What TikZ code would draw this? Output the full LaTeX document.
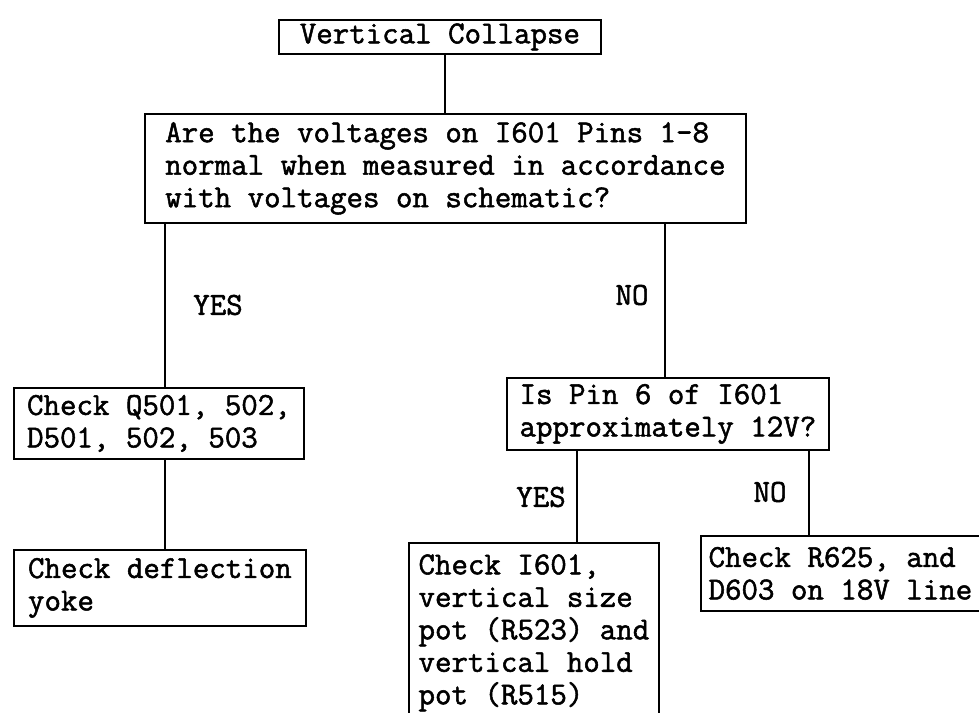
\documentclass[tikz,border=0pt]{standalone}
\usepackage{fontspec}
\newfontfamily\tw[FakeBold=1.6]{Latin Modern Mono}
\begin{document}
\begin{tikzpicture}[x=1pt,y=-1pt,
  box/.style={draw, line width=1.8pt, anchor=north west, align=left,
    inner xsep=0pt, inner ysep=0pt, font=\tw\fontsize{32}{32.5}\selectfont},
  lbl/.style={font=\tw\fontsize{32}{32.5}\selectfont, inner sep=0pt},
  link/.style={line width=2pt}]
\useasboundingbox (0,0) rectangle (979,712);
\fill[white] (0,0) rectangle (979,712);

\node[box, minimum width=322pt, minimum height=34pt] (top) at (278,19) {Vertical Collapse};
\node[box, minimum width=601pt, minimum height=109pt] (q) at (144,113)
  {Are the voltages on I601 Pins 1-8\\normal when measured in accordance\\with voltages on schematic?};
\node[box, minimum width=290pt, minimum height=71pt] (c1) at (13,387)
  {Check Q501, 502,\\D501, 502, 503};
\node[box, minimum width=292pt, minimum height=76pt] (d) at (13,549)
  {Check deflection\\yoke};
\node[box, minimum width=322pt, minimum height=72pt] (p) at (506,377)
  {Is Pin 6 of I601\\approximately 12V?};
\node[box, minimum width=279pt, minimum height=75pt] (c3) at (700,535)
  {Check R625, and\\D603 on 18V line};
\node[box, minimum width=250pt, minimum height=180pt, inner ysep=6pt] (c2) at (408,542)
  {Check I601,\\vertical size\\pot (R523) and\\vertical hold\\pot (R515)};

\draw[link] (q.north |- top.south) -- (q.north);
\draw[link] ([xshift=6pt]c1.north |- q.south) -- ([xshift=6pt]c1.north);
\draw[link] ([xshift=-3pt]p.north |- q.south) -- ([xshift=-3pt]p.north);
\draw[link] ([xshift=6pt]c1.south) -- ([xshift=6pt]c1.south |- d.north);
\draw[link] ([xshift=-91pt]p.south) -- ([xshift=-91pt]p.south |- c2.north);
\draw[link] ([xshift=141pt]p.south) -- ([xshift=141pt]p.south |- c3.north);

\node[lbl] (yes1) at (218,305) {YES};
\node[lbl] (no1) at (632,295) {NO};
\node[lbl] (yes2) at (541,497) {YES};
\node[lbl] (no2) at (770,492) {NO};
\end{tikzpicture}
\end{document}
